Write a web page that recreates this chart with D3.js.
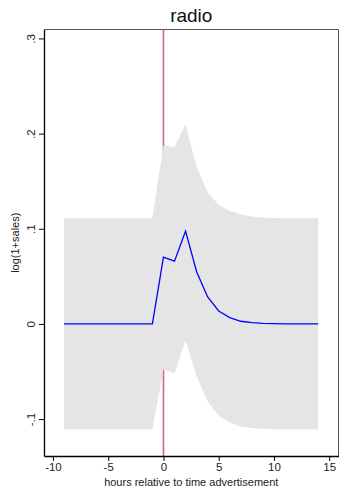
<!DOCTYPE html>
<html>
<head>
<meta charset="utf-8">
<script src="https://cdn.jsdelivr.net/npm/d3@7"></script>
<style>
  body { margin: 0; background: #fff; }
  svg { display: block; font-family: "Liberation Sans", Arial, sans-serif; }
</style>
</head>
<body>
<div id="plot"></div>
<script>
// hours relative to the ad, point estimate and confidence band
var hours = [-9, -8, -7, -6, -5, -4, -3, -2, -1, 0, 1, 2, 3, 4, 5, 6, 7, 8, 9, 10, 11, 12, 13, 14];
var estimate = [0, 0, 0, 0, 0, 0, 0, 0, 0, 0.0703, 0.066, 0.0976, 0.0549, 0.0283, 0.0136, 0.0066, 0.0028, 0.0013, 0.0006, 0.0003, 0.0001, 0.0001, 0, 0];
var upper = [0.111, 0.111, 0.111, 0.111, 0.111, 0.111, 0.111, 0.111, 0.111, 0.1878, 0.186, 0.21, 0.165, 0.1385, 0.125, 0.119, 0.115, 0.1128, 0.1118, 0.1113, 0.1111, 0.111, 0.111, 0.111];
var lower = [-0.111, -0.111, -0.111, -0.111, -0.111, -0.111, -0.111, -0.111, -0.111, -0.048, -0.052, -0.017, -0.055, -0.0815, -0.0965, -0.1035, -0.1077, -0.1095, -0.1104, -0.1108, -0.111, -0.111, -0.111, -0.111];

var x_ticks = [-10, -5, 0, 5, 10, 15];
var x_tick_labels = ["-10", "-5", "0", "5", "10", "15"];
var y_ticks = [-0.1, 0, 0.1, 0.2, 0.3];
var y_tick_labels = ["-.1", "0", ".1", ".2", ".3"];
var event_hour = 0;

var width = 339, height = 490;
var m_left = 44, m_right = 338.5, m_top = 29.5, m_bottom = 456;

var svg = d3.select("div#plot").append("svg")
    .attr("width", width)
    .attr("height", height)
    .attr("viewBox", "0 0 " + width + " " + height);

var x_scale = d3.scaleLinear()
    .domain([-10.81, 15.84])
    .range([m_left, m_right]);

var y_scale = d3.scaleLinear()
    .domain([-0.1388, 0.3094])
    .range([m_bottom, m_top]);

var data = hours.map(function(h, i) {
    return { h: h, est: estimate[i], hi: upper[i], lo: lower[i] };
});

// Frame (top and right, light)
svg.append("path")
    .attr("d", "M" + m_left + "," + m_top + "H" + m_right + "V" + m_bottom)
    .attr("fill", "none")
    .attr("stroke", "#555")
    .attr("stroke-width", 1);

// Vertical line at the time of the ad (drawn under the band)
svg.append("line")
    .attr("x1", x_scale(event_hour))
    .attr("x2", x_scale(event_hour))
    .attr("y1", m_top)
    .attr("y2", m_bottom)
    .style("stroke", "#d9607f")
    .style("stroke-width", 1.6);

// Confidence band
var area = d3.area()
    .x(d => x_scale(d.h))
    .y0(d => y_scale(d.lo))
    .y1(d => y_scale(d.hi));

svg.append("path")
    .datum(data)
    .attr("d", area)
    .attr("fill", "#e5e5e5");

// Point estimate
var line = d3.line()
    .x(d => x_scale(d.h))
    .y(d => y_scale(d.est));

svg.append("path")
    .datum(data)
    .attr("d", line)
    .attr("fill", "none")
    .style("stroke", "#0000ff")
    .style("stroke-width", 1.3);

// X axis
var g_x_axis = svg.append("g")
    .attr("transform", "translate(0, " + m_bottom + ")")
    .call(d3.axisBottom(x_scale).tickValues(x_ticks).tickSize(5).tickPadding(2).tickSizeOuter(0)
        .tickFormat((d, i) => x_tick_labels[i]));

g_x_axis.select(".domain").attr("stroke", "#000").attr("stroke-width", 1.3);
g_x_axis.selectAll("text")
    .attr("font-size", 11.5)
    .attr("fill", "#222")
    .attr("font-family", "Liberation Sans, Arial, sans-serif");

// Y axis
var g_y_axis = svg.append("g")
    .attr("transform", "translate(" + m_left + ", 0)")
    .call(d3.axisLeft(y_scale).tickValues(y_ticks).tickSize(5).tickSizeOuter(0)
        .tickFormat((d, i) => y_tick_labels[i]));

g_y_axis.select(".domain").attr("stroke", "#000").attr("stroke-width", 1.3);
g_y_axis.selectAll(".tick text")
    .attr("font-size", 11.5)
    .attr("fill", "#222")
    .attr("font-family", "Liberation Sans, Arial, sans-serif")
    .attr("x", null)
    .attr("dy", null)
    .attr("text-anchor", "middle")
    .attr("transform", "translate(-9, 0) rotate(-90)");

// Titles
svg.append("text")
    .attr("x", (m_left + m_right) / 2)
    .attr("y", 22)
    .attr("text-anchor", "middle")
    .attr("font-size", 19)
    .attr("fill", "#111")
    .text("radio");

svg.append("text")
    .attr("x", (m_left + m_right) / 2)
    .attr("y", 486)
    .attr("text-anchor", "middle")
    .attr("font-size", 11)
    .attr("fill", "#222")
    .text("hours relative to time advertisement");

svg.append("text")
    .attr("transform", "translate(19, " + ((m_top + m_bottom) / 2) + ") rotate(-90)")
    .attr("text-anchor", "middle")
    .attr("font-size", 11)
    .attr("fill", "#222")
    .text("log(1+sales)");
</script>
</body>
</html>
